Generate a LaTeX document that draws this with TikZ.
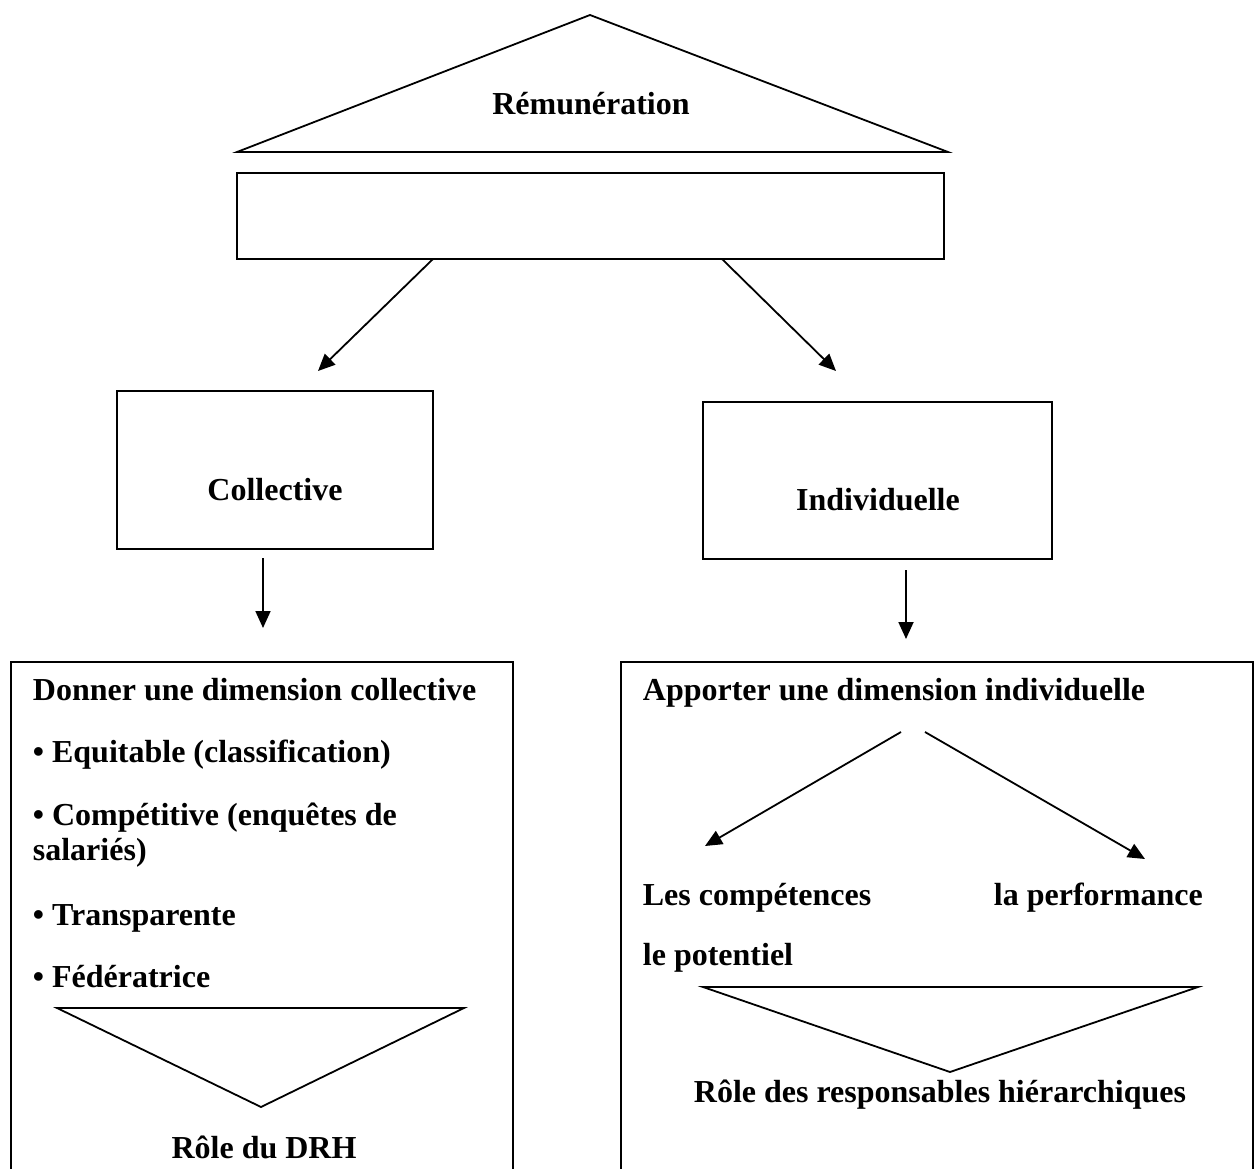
\documentclass[tikz,border=0pt]{standalone}
\usepackage{fontspec}
\setmainfont{Liberation Serif}
\usetikzlibrary{arrows.meta}
\begin{document}
\begin{tikzpicture}[x=1pt,y=-1pt,
  line width=1.8pt,
  txt/.style={font=\fontsize{32}{38}\selectfont\bfseries, inner sep=0pt},
  arr/.style={-{Triangle[length=17pt,width=15pt]}},
  frame/.style={draw, line width=1.8pt, inner sep=0pt}
]
\useasboundingbox (0,0) rectangle (1259,1169);

% top: pay triangle and its empty banner
\draw (237,152) -- (590,15) -- (948,152) -- cycle;
\node[txt, anchor=base] (remu) at (591,115) {Rémunération};
\node[frame, minimum width=707pt, minimum height=86pt] (banner) at (590.5,216) {};

% the two branches
\node[frame, minimum width=316pt, minimum height=158pt] (colbox) at (275,470) {};
\node[txt, anchor=base] (coltxt) at (275,500) {Collective};
\node[frame, minimum width=349pt, minimum height=157pt] (indbox) at (877.5,480.5) {};
\node[txt, anchor=base] (indtxt) at (878,510) {Individuelle};

\coordinate (bL) at (433,259);
\coordinate (bR) at (722,259);
\coordinate (tL) at (318,371);
\coordinate (tR) at (836,371);
\draw[arr] (bL) -- (tL);
\draw[arr] (bR) -- (tR);

\coordinate (cL) at (263,558);
\coordinate (dL) at (263,628);
\coordinate (cR) at (906,570);
\coordinate (dR) at (906,639);
\draw[arr] (cL) -- (dL);
\draw[arr] (cR) -- (dR);

% lower left panel: collective dimension
\node[frame, minimum width=502pt, minimum height=540pt] (leftpanel) at (262,932) {};
\node[txt, anchor=base west] (l1) at (32,700) {Donner une dimension collective};
\node[txt, anchor=base west] (l2) at (32,762) {• Equitable (classification)};
\node[txt, anchor=base west] (l3) at (32,825) {• Compétitive (enquêtes de};
\node[txt, anchor=base west] (l4) at (32,860) {salariés)};
\node[txt, anchor=base west] (l5) at (32,925) {• Transparente};
\node[txt, anchor=base west] (l6) at (32,987) {• Fédératrice};
\draw (57,1008) -- (464,1008) -- (261,1107) -- cycle;
\node[txt, anchor=base] (drh) at (264,1158) {Rôle du DRH};

% lower right panel: individual dimension
\node[frame, minimum width=632pt, minimum height=540pt] (rightpanel) at (937,932) {};
\node[txt, anchor=base west] (r1) at (642,700) {Apporter une dimension individuelle};
\coordinate (sL) at (901,732);
\coordinate (eL) at (705,846);
\coordinate (sR) at (925,732);
\coordinate (eR) at (1145,859);
\draw[arr] (sL) -- (eL);
\draw[arr] (sR) -- (eR);
\node[txt, anchor=base west] (comp) at (642,905) {Les compétences};
\node[txt, anchor=base west] (perf) at (993,905) {la performance};
\node[txt, anchor=base west] (pot) at (642,965) {le potentiel};
\draw (703,987) -- (1198,987) -- (950,1072) -- cycle;
\node[txt, anchor=base west] (resp) at (693,1102) {Rôle des responsables hiérarchiques};
\end{tikzpicture}
\end{document}
